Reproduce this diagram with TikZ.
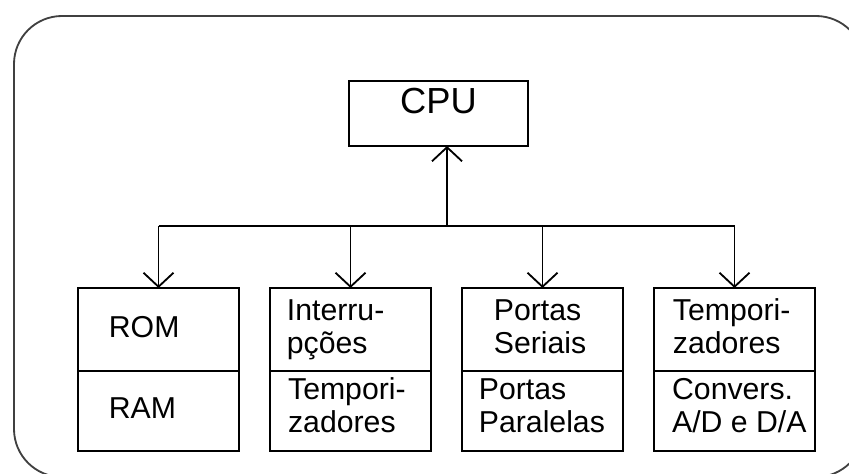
\documentclass[tikz,border=0pt]{standalone}
\usepackage{fontspec}
\setmainfont{Liberation Sans}
\usetikzlibrary{arrows.meta,positioning,calc}

\begin{document}
\begin{tikzpicture}[
    font=\fontsize{21.5}{23.1}\selectfont,
    line width=1.3pt,
    cell/.style={draw, minimum width=4.025cm, inner sep=0pt, outer sep=0pt},
    txt/.style={anchor=base west, align=left, inner sep=0pt},
    arr/.style={-{Straight Barb[length=0.35cm, width=0.75cm]}}
]
\useasboundingbox (0,0) rectangle (21.225,11.825);
\clip (0,0) rectangle (21.225,11.825);
\draw[black!75, rounded corners=1.2cm] (0.35,-0.1) rectangle (21.6,11.425);

\node[draw, minimum width=4.475cm, minimum height=1.625cm, inner sep=0pt, outer sep=0pt,
      text height=0.5cm, text depth=0.5cm, font=\fontsize{25.8}{28}\selectfont]
      (cpu) at (10.9625,8.9875) {CPU};

% upper row
\node[cell, minimum height=2.075cm, anchor=north west] (rom) at (1.95,4.625) {};
\node[cell, minimum height=2.075cm, right=0.775cm of rom] (intr) {};
\node[cell, minimum height=2.075cm, right=0.775cm of intr] (seri) {};
\node[cell, minimum height=2.075cm, right=0.775cm of seri] (tmpr) {};

% lower row
\node[cell, minimum height=2cm, below=0pt of rom] (ram) {};
\node[cell, minimum height=2cm, below=0pt of intr] (tmpz) {};
\node[cell, minimum height=2cm, below=0pt of seri] (para) {};
\node[cell, minimum height=2cm, below=0pt of tmpr] (conv) {};

% texts (base = last line)
\node[txt] (romt) at ([shift={(0.75,-1.225)}]rom.north west) {ROM};
\node[txt] (ramt) at ([shift={(0.75,-1.175)}]ram.north west) {RAM};
\node[txt] (intrt) at ([shift={(0.4,-1.625)}]intr.north west) {Interru-\\pções};
\node[txt] (tmpzt) at ([shift={(0.43,-1.525)}]tmpz.north west) {Tempori-\\zadores};
\node[txt] (serit) at ([shift={(0.775,-1.625)}]seri.north west) {Portas\\Seriais};
\node[txt] (parat) at ([shift={(0.4,-1.525)}]para.north west) {Portas\\Paralelas};
\node[txt] (tmprt) at ([shift={(0.45,-1.625)}]tmpr.north west) {Tempori-\\zadores};
\node[txt] (convt) at ([shift={(0.43,-1.525)}]conv.north west) {Convers.\\A/D e D/A};

% bus
\coordinate (hub) at (11.175,6.175);
\draw (rom.north |- hub) -- (tmpr.north |- hub);
\draw[arr] (hub) -- (hub |- cpu.south);
\draw[arr] (rom.north |- hub) -- (rom.north);
\draw[arr] (intr.north |- hub) -- (intr.north);
\draw[arr] (seri.north |- hub) -- (seri.north);
\draw[arr] (tmpr.north |- hub) -- (tmpr.north);
\end{tikzpicture}
\end{document}
